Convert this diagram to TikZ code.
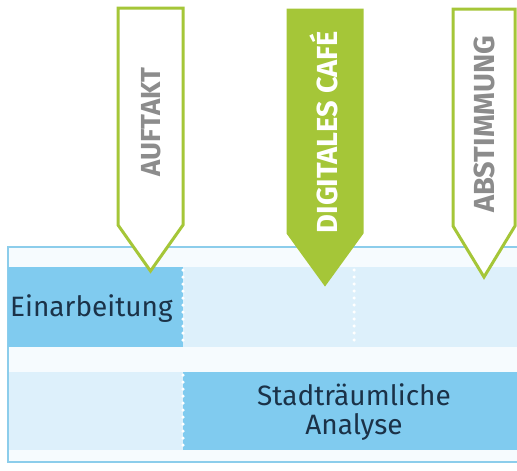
\documentclass[tikz,border=0pt]{standalone}
\usepackage{fontspec}
\setmainfont{Fira Sans}
\definecolor{lime}{HTML}{A5C638}
\definecolor{darkblue}{HTML}{80CBEF}
\definecolor{paleblue}{HTML}{DDF0FB}
\definecolor{framefill}{HTML}{F6FBFE}
\definecolor{framecol}{HTML}{8CCDEB}
\definecolor{navy}{HTML}{1B3248}
\definecolor{taggray}{HTML}{8C8C8C}
\tikzset{
  tagline/.style={draw=lime, line width=3pt, line join=miter},
  tagtext/.style={rotate=90, font=\bfseries\fontsize{#1}{#1}\selectfont},
  seprow/.style={white, line width=3.5pt, line cap=round, dash pattern=on 0pt off 7pt},
  rowtext/.style={text=navy, font=\fontsize{28}{29}\selectfont}
}
\begin{document}
\begin{tikzpicture}[x=1pt, y=-1pt]
		\useasboundingbox (0,0) rectangle (517,471);
		%frame
		\fill[framefill] (8,247) rectangle (530,462);
		\draw[framecol, line width=1.2pt] (530,247) -- (8,247) -- (8,462) -- (530,462);
		
		%rows
		\fill[darkblue] (8,267) rectangle (183,347);
		\fill[paleblue] (183,267) rectangle (530,347);
		\fill[paleblue] (9,372) rectangle (183,450);
		\fill[darkblue] (183,372) rectangle (530,450);
		
		\foreach \x/\ya/\yb in {183/270/347, 354/270/347, 183/375/450}{
			\draw[seprow] (\x,\ya) -- (\x,\yb);
		}
		
		%tags
		\draw[tagline, fill=white] (118,8) -- (183,8) -- (183,225) -- (150.5,271) -- (118,225) -- cycle;
		\draw[tagline, fill=lime] (288,10) -- (362,10) -- (362,233) -- (325,284) -- (288,233) -- cycle;
		\draw[tagline, fill=white] (453,9) -- (515,9) -- (515,226) -- (484,277) -- (453,226) -- cycle;
		
		\node[tagtext=27.5, text=taggray] (auftakt) at (151,122) {AUFTAKT};
		\node[tagtext=29, text=white] (cafe) at (324,132) {DIGITALES CAFÉ};
		\node[tagtext=29, text=taggray] (abstimmung) at (484,124) {ABSTIMMUNG};
		
		\node[rowtext, anchor=west, inner sep=0pt] (einarbeitung) at (10,309) {Einarbeitung};
		\node[rowtext, align=center] (analyse) at (354,412) {Stadträumliche\\Analyse};
\end{tikzpicture}
\end{document}
